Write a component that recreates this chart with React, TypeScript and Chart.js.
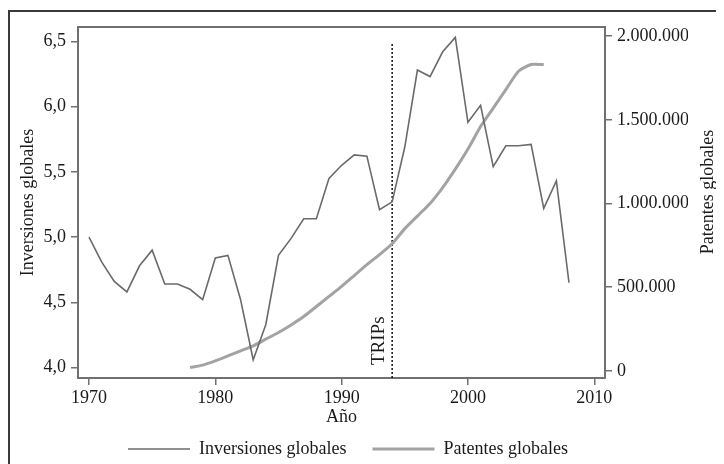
import React, { useEffect, useRef } from "react";
import { Chart, registerables } from "chart.js";

Chart.register(...registerables);

// ---- data ----
const years = [
  1970, 1971, 1972, 1973, 1974, 1975, 1976, 1977, 1978, 1979,
  1980, 1981, 1982, 1983, 1984, 1985, 1986, 1987, 1988, 1989,
  1990, 1991, 1992, 1993, 1994, 1995, 1996, 1997, 1998, 1999,
  2000, 2001, 2002, 2003, 2004, 2005, 2006, 2007, 2008,
];
const inversiones = [
  5.0, 4.81, 4.66, 4.58, 4.78, 4.9, 4.64, 4.64, 4.6, 4.52,
  4.84, 4.86, 4.52, 4.06, 4.33, 4.86, 4.99, 5.14, 5.14, 5.45,
  5.55, 5.63, 5.62, 5.21, 5.27, 5.69, 6.28, 6.23, 6.42, 6.53,
  5.88, 6.01, 5.54, 5.7, 5.7, 5.71, 5.22, 5.43, 4.65,
];
const patentYears = [
  1978, 1979, 1980, 1981, 1982, 1983, 1984, 1985, 1986, 1987,
  1988, 1989, 1990, 1991, 1992, 1993, 1994, 1995, 1996, 1997,
  1998, 1999, 2000, 2001, 2002, 2003, 2004, 2005, 2006,
];
const patentes = [
  20000, 35000, 60000, 90000, 120000, 150000, 190000, 230000, 275000, 325000,
  385000, 445000, 505000, 570000, 635000, 695000, 760000, 850000, 925000, 1000000,
  1095000, 1205000, 1325000, 1460000, 1570000, 1680000, 1790000, 1830000, 1830000,
];
const xTicks = [1970, 1980, 1990, 2000, 2010];
const leftTicks = [4.0, 4.5, 5.0, 5.5, 6.0, 6.5];
const rightTicks = [0, 500000, 1000000, 1500000, 2000000];
const tripsYear = 1994;
const tripsRange = [3.92, 6.49];

const FONT = '"Liberation Serif", "Times New Roman", serif';
const AXIS = "#707070";
const TEXT = "#1a1a1a";

const fmtLeft = (v: number) => v.toFixed(1).replace(".", ",");
const fmtRight = (v: number) =>
  String(Math.round(v)).replace(/\B(?=(\d{3})+(?!\d))/g, ".");

const decor = {
  id: "decor",
  afterDraw(chart: any) {
    const { ctx, chartArea: a, scales } = chart;
    ctx.save();
    ctx.strokeStyle = AXIS;
    ctx.lineWidth = 2;
    ctx.beginPath();
    ctx.moveTo(a.left - 1, a.top);
    ctx.lineTo(a.right + 1, a.top);
    ctx.stroke();

    ctx.fillStyle = TEXT;
    // TRIPs label
    const x = scales.x.getPixelForValue(tripsYear);
    ctx.save();
    ctx.translate(x - 8, a.bottom - 13);
    ctx.rotate(-Math.PI / 2);
    ctx.font = `19px ${FONT}`;
    ctx.textAlign = "left";
    ctx.textBaseline = "alphabetic";
    ctx.fillText("TRIPs", 0, 0);
    ctx.restore();

    // right axis title (reads bottom to top)
    ctx.save();
    ctx.translate(700.5, 184);
    ctx.rotate(-Math.PI / 2);
    ctx.font = `18px ${FONT}`;
    ctx.textAlign = "center";
    ctx.textBaseline = "middle";
    ctx.fillText("Patentes globales", 0, 0);
    ctx.restore();
    ctx.restore();
  },
};

export default function App() {
  const ref = useRef<HTMLCanvasElement | null>(null);

  useEffect(() => {
    if (!ref.current) return;
    const chart = new Chart(ref.current, {
      type: "line",
      data: {
        datasets: [
          {
            label: "Inversiones globales",
            data: years.map((y, i) => ({ x: y, y: inversiones[i] })),
            borderColor: "#6a6a6a",
            backgroundColor: "#6a6a6a",
            borderWidth: 1.6,
            pointRadius: 0,
            tension: 0,
            yAxisID: "y",
          },
          {
            label: "Patentes globales",
            data: patentYears.map((y, i) => ({ x: y, y: patentes[i] })),
            borderColor: "#a3a3a3",
            backgroundColor: "#a3a3a3",
            borderWidth: 3,
            pointRadius: 0,
            tension: 0.2,
            yAxisID: "y2",
          },
          {
            label: "TRIPs",
            data: tripsRange.map((v) => ({ x: tripsYear, y: v })),
            borderColor: "#111",
            borderWidth: 1.5,
            borderDash: [2, 2],
            pointRadius: 0,
            yAxisID: "y",
          },
        ],
      },
      options: {
        animation: false,
        responsive: false,
        layout: { padding: { top: 19, right: 36, left: 0, bottom: -4 } },
        plugins: {
          tooltip: { enabled: false },
          legend: {
            display: true,
            position: "bottom",
            labels: {
              filter: (item: any) => item.text !== "TRIPs",
              usePointStyle: true,
              pointStyle: "line",
              pointStyleWidth: 62,
              padding: 26,
              color: TEXT,
              font: { family: FONT, size: 18 },
            },
          },
        },
        scales: {
          x: {
            type: "linear",
            min: 1969.13,
            max: 2010.85,
            afterBuildTicks: (s: any) => {
              s.ticks = xTicks.map((v) => ({ value: v }));
            },
            afterFit: (s: any) => {
              s.height = 36;
            },
            ticks: {
              color: TEXT,
              font: { family: FONT, size: 18 },
              padding: 2,
              maxRotation: 0,
              callback: (v: any) => String(v),
            },
            grid: {
              drawOnChartArea: false,
              tickLength: 7,
              color: AXIS,
              lineWidth: 1.5,
            },
            border: { display: true, color: AXIS, width: 2 },
            title: {
              display: true,
              text: "Año",
              color: TEXT,
              font: { family: FONT, size: 18 },
              padding: { top: 0, bottom: -14 },
            },
          },
          y: {
            type: "linear",
            position: "left",
            min: 3.92,
            max: 6.61,
            afterBuildTicks: (s: any) => {
              s.ticks = leftTicks.map((v) => ({ value: v }));
            },
            afterFit: (s: any) => {
              s.width = 70;
            },
            ticks: {
              color: TEXT,
              font: { family: FONT, size: 18 },
              padding: 5,
              callback: (v: any) => fmtLeft(Number(v)),
            },
            grid: {
              drawOnChartArea: false,
              tickLength: 7,
              color: AXIS,
              lineWidth: 1.5,
            },
            border: { display: true, color: AXIS, width: 2 },
            title: {
              display: true,
              text: "Inversiones globales",
              color: TEXT,
              font: { family: FONT, size: 18 },
              padding: { top: 9, bottom: 0 },
            },
          },
          y2: {
            type: "linear",
            position: "right",
            min: -42000,
            max: 2054000,
            afterBuildTicks: (s: any) => {
              s.ticks = rightTicks.map((v) => ({ value: v }));
            },
            afterFit: (s: any) => {
              s.width = 83;
            },
            ticks: {
              color: TEXT,
              font: { family: FONT, size: 18 },
              padding: 5,
              callback: (v: any) => fmtRight(Number(v)),
            },
            grid: {
              drawOnChartArea: false,
              tickLength: 7,
              color: AXIS,
              lineWidth: 1.5,
            },
            border: { display: true, color: AXIS, width: 2 },
          },
        },
      },
      plugins: [decor],
    } as any);
    return () => chart.destroy();
  }, []);

  return (
    <div style={{ position: "relative", width: 716, height: 456 }}>
      <div
        style={{
          position: "absolute",
          left: 0,
          top: 2,
          right: 0,
          bottom: 0,
          borderTop: "2px solid #3a3a3a",
          borderLeft: "2px solid #3a3a3a",
        }}
      />
      <canvas
        ref={ref}
        width={716}
        height={456}
        style={{ position: "absolute", left: 0, top: 0, width: 716, height: 456 }}
      />
    </div>
  );
}
